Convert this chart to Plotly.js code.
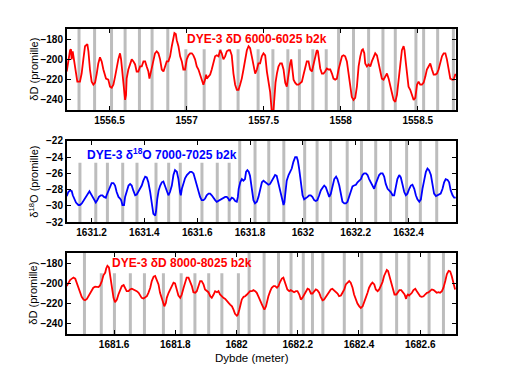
<!DOCTYPE html>
<html><head><meta charset="utf-8">
<script src="https://cdn.plot.ly/plotly-3.0.1.min.js"></script>
<style>html,body{margin:0;padding:0;background:#fff;}#chart{width:505px;height:372px;}</style>
</head><body><div id="chart"></div>
<script>
// ---------- DATA ----------
const topDepth = [1556.222,1556.244,1556.250,1556.254,1556.261,1556.269,1556.282,1556.291,1556.308,1556.319,1556.330,1556.341,1556.356,1556.363,1556.373,1556.384,1556.395,1556.406,1556.417,1556.427,1556.438,1556.449,1556.460,1556.477,1556.492,1556.503,1556.514,1556.525,1556.536,1556.547,1556.557,1556.568,1556.575,1556.586,1556.594,1556.601,1556.607,1556.611,1556.622,1556.633,1556.644,1556.655,1556.666,1556.676,1556.687,1556.698,1556.709,1556.720,1556.731,1556.741,1556.752,1556.759,1556.767,1556.780,1556.795,1556.806,1556.817,1556.828,1556.839,1556.850,1556.860,1556.871,1556.882,1556.893,1556.904,1556.914,1556.921,1556.930,1556.936,1556.947,1556.958,1556.969,1556.979,1556.990,1557.001,1557.012,1557.023,1557.034,1557.044,1557.055,1557.066,1557.077,1557.088,1557.098,1557.109,1557.120,1557.127,1557.131,1557.142,1557.153,1557.163,1557.174,1557.185,1557.196,1557.207,1557.218,1557.228,1557.239,1557.250,1557.261,1557.272,1557.282,1557.293,1557.304,1557.315,1557.326,1557.337,1557.347,1557.358,1557.369,1557.380,1557.391,1557.402,1557.412,
1557.423,1557.434,1557.445,1557.456,1557.466,1557.477,1557.488,1557.499,1557.510,1557.521,1557.531,1557.542,1557.549,1557.553,1557.564,1557.570,1557.577,1557.586,1557.596,1557.607,1557.618,1557.629,1557.640,1557.650,1557.661,1557.672,1557.679,1557.685,1557.694,1557.704,1557.715,1557.726,1557.737,1557.748,1557.759,1557.769,1557.780,1557.791,1557.802,1557.813,1557.824,1557.834,1557.845,1557.852,1557.860,1557.867,1557.878,1557.888,1557.899,1557.910,1557.921,1557.932,1557.943,1557.953,1557.964,1557.975,1557.986,1557.997,1558.008,1558.018,1558.029,1558.040,1558.051,1558.062,1558.072,1558.083,1558.094,1558.105,1558.116,1558.127,1558.137,1558.144,1558.153,1558.159,1558.170,1558.181,1558.192,1558.202,1558.213,1558.224,1558.235,1558.246,1558.256,1558.267,1558.278,1558.289,1558.300,1558.311,1558.321,1558.332,1558.343,1558.354,1558.365,1558.376,1558.386,1558.397,1558.408,1558.414,1558.423,1558.430,1558.440,1558.451,1558.462,1558.473,1558.484,1558.495,1558.505,1558.516,1558.527,1558.538,1558.549,1558.559,1558.570,1558.581,1558.592,1558.603,1558.614,1558.624,1558.635,1558.646,1558.657,1558.668,1558.679,1558.689,1558.700,1558.711,1558.722,1558.733,1558.743,1558.748];
const topDD = [-212,-191,-190,-200,-192,-201,-217,-222,-222,-214,-200,-187,-185,-192,-210,-222,-225,-223,-214,-204,-198,-202,-210,-219,-220,-227,-228,-225,-217,-207,-200,-194,-200,-217,-227,-240,-235,-219,-210,-204,-200,-202,-205,-212,-212,-207,-207,-202,-202,-207,-212,-219,-214,-204,-194,-192,-194,-200,-210,-212,-207,-202,-202,-197,-187,-177,-174,-175,-181,-187,-197,-202,-210,-210,-200,-196,-194,-194,-196,-200,-207,-210,-215,-220,-225,-220,-215,-219,-217,-215,-210,-202,-197,-196,-197,-191,-194,-200,-197,-192,-191,-191,-196,-214,-225,-230,-230,-225,-219,-210,-199,-191,-187,-189,
-197,-207,-214,-210,-204,-204,-197,-194,-196,-212,-222,-232,-245,-252,-250,-237,-223,-214,-207,-204,-204,-210,-223,-227,-214,-204,-200,-210,-220,-223,-225,-225,-223,-222,-215,-207,-202,-202,-210,-212,-204,-197,-191,-192,-200,-209,-214,-214,-212,-209,-210,-210,-214,-219,-220,-219,-210,-202,-197,-196,-197,-202,-214,-227,-237,-240,-238,-227,-207,-197,-191,-190,-194,-204,-207,-205,-207,-202,-197,-194,-196,-204,-210,-219,-220,-217,-214,-219,-227,-233,-240,-242,-235,-219,-204,-191,-187,-191,-204,-214,-227,-230,-235,-240,-238,-225,-222,-225,-225,-223,-217,-210,-207,-204,-210,-215,-215,-214,-210,-202,-197,-194,-194,-200,-210,-219,-220,-220,-215,-215];

const midDepth = [1631.106,1631.112,1631.119,1631.125,1631.129,1631.134,1631.141,1631.150,1631.156,1631.163,1631.169,1631.175,1631.182,1631.188,1631.192,1631.197,1631.203,1631.209,1631.216,1631.222,1631.228,1631.235,1631.241,1631.247,1631.254,1631.257,1631.264,1631.270,1631.276,1631.283,1631.289,1631.295,1631.302,1631.308,1631.312,1631.317,1631.323,1631.327,1631.333,1631.340,1631.346,1631.352,1631.358,1631.365,1631.371,1631.377,1631.384,1631.390,1631.396,1631.403,1631.409,1631.415,1631.422,1631.428,1631.434,1631.441,1631.444,1631.449,1631.454,1631.460,1631.466,1631.472,1631.478,1631.485,1631.491,1631.497,1631.504,1631.510,1631.516,1631.523,1631.529,1631.535,1631.538,1631.542,1631.548,1631.554,1631.561,1631.567,1631.573,1631.579,1631.586,1631.592,1631.598,1631.605,1631.611,1631.617,1631.624,1631.630,1631.636,1631.643,1631.649,1631.655,1631.662,1631.668,1631.674,1631.680,1631.687,1631.693,1631.699,1631.706,1631.712,1631.718,1631.722,1631.725,1631.731,1631.737,1631.744,1631.750,1631.754,1631.757,1631.763,1631.769,1631.775,1631.781,1631.785,1631.790,1631.795,
1631.800,1631.807,1631.813,1631.819,1631.826,1631.832,1631.838,1631.845,1631.851,1631.857,1631.864,1631.870,1631.876,1631.882,1631.889,1631.895,1631.901,1631.908,1631.914,1631.920,1631.927,1631.930,1631.934,1631.939,1631.946,1631.952,1631.958,1631.964,1631.971,1631.977,1631.981,1631.986,1631.992,1631.999,1632.005,1632.011,1632.018,1632.024,1632.030,1632.036,1632.043,1632.049,1632.055,1632.062,1632.068,1632.076,1632.081,1632.087,1632.093,1632.100,1632.106,1632.112,1632.119,1632.126,1632.131,1632.138,1632.144,1632.150,1632.157,1632.163,1632.169,1632.175,1632.182,1632.188,1632.194,1632.201,1632.207,1632.213,1632.220,1632.226,1632.232,1632.239,1632.245,1632.251,1632.257,1632.264,1632.270,1632.276,1632.283,1632.289,1632.295,1632.302,1632.308,1632.314,1632.321,1632.327,1632.333,1632.340,1632.346,1632.352,1632.358,1632.365,1632.371,1632.377,1632.384,1632.390,1632.396,1632.403,1632.409,1632.415,1632.422,1632.428,1632.434,1632.441,1632.447,1632.453,1632.459,1632.466,1632.472,1632.478,1632.485,1632.491,1632.497,1632.504,1632.510,1632.516,1632.522,1632.529,1632.535,1632.541,1632.548,1632.554,1632.560,1632.567,1632.573,1632.579];
const midD18O = [-28.8,-28.3,-28.1,-28.2,-28.7,-29.1,-29.6,-29.9,-29.9,-29.7,-29.4,-29.1,-28.7,-28.3,-28.2,-28.5,-28.9,-29.3,-29.6,-29.3,-28.9,-28.7,-28.7,-28.9,-29.0,-28.7,-28.1,-27.5,-27.2,-27.2,-27.5,-28.3,-28.9,-29.1,-29.3,-29.9,-29.9,-28.9,-28.1,-27.5,-27.3,-27.5,-28.1,-28.7,-28.6,-28.3,-27.9,-27.5,-26.9,-26.4,-26.5,-27.1,-28.3,-29.5,-31.0,-31.2,-30.7,-29.1,-28.1,-27.5,-27.1,-27.0,-27.5,-28.1,-28.7,-28.3,-27.5,-26.2,-25.6,-25.8,-26.7,-28.3,-28.7,-27.9,-27.1,-26.6,-26.2,-26.0,-25.8,-25.8,-26.0,-26.7,-27.5,-28.3,-28.9,-29.3,-29.3,-29.1,-28.7,-28.5,-28.5,-28.7,-29.1,-29.3,-29.5,-29.4,-29.3,-29.2,-29.0,-28.9,-28.9,-29.1,-29.4,-29.2,-29.0,-29.1,-29.4,-29.5,-28.9,-27.9,-27.1,-26.7,-26.9,-26.7,-25.8,-25.6,-25.8,
-26.3,-27.9,-29.3,-29.7,-29.5,-28.9,-27.9,-27.1,-26.9,-27.1,-27.3,-27.4,-27.3,-26.9,-26.4,-26.2,-26.3,-27.3,-28.3,-29.3,-29.9,-29.6,-28.3,-26.9,-26.2,-25.8,-25.4,-24.6,-24.0,-24.0,-24.4,-25.4,-27.1,-28.7,-29.2,-29.1,-28.9,-28.7,-28.7,-28.9,-29.3,-29.4,-29.3,-28.7,-28.1,-27.7,-27.5,-27.7,-28.3,-28.9,-28.5,-27.5,-26.7,-26.4,-26.7,-27.5,-28.7,-29.5,-29.7,-29.7,-29.5,-28.9,-28.3,-27.6,-27.5,-27.4,-27.1,-26.9,-26.7,-26.2,-26.0,-26.0,-26.2,-26.7,-27.1,-27.5,-27.9,-27.3,-26.7,-26.2,-26.0,-26.0,-26.4,-27.3,-27.9,-28.1,-28.3,-28.7,-28.7,-27.7,-26.7,-26.2,-26.5,-27.3,-28.3,-28.7,-28.5,-27.9,-27.5,-27.4,-27.9,-28.7,-29.2,-29.5,-29.2,-27.9,-26.7,-25.8,-25.4,-25.6,-26.2,-27.5,-28.5,-28.8,-28.7,-28.7,-28.5,-27.9,-27.1,-26.7,-26.8,-27.1,-28.1,-28.7,-29.0,-29.0];

const botDepth = [1681.445,1681.451,1681.456,1681.462,1681.467,1681.473,1681.478,1681.483,1681.489,1681.494,1681.500,1681.505,1681.511,1681.516,1681.522,1681.527,1681.532,1681.538,1681.543,1681.549,1681.554,1681.560,1681.565,1681.571,1681.574,1681.578,1681.583,1681.587,1681.592,1681.598,1681.603,1681.609,1681.614,1681.620,1681.625,1681.631,1681.636,1681.641,1681.647,1681.652,1681.658,1681.663,1681.669,1681.674,1681.680,1681.685,1681.690,1681.696,1681.701,1681.707,1681.712,1681.718,1681.723,1681.729,1681.734,1681.739,1681.745,1681.750,1681.756,1681.761,1681.764,1681.769,1681.772,1681.778,1681.783,1681.788,1681.794,1681.799,1681.805,1681.810,1681.816,1681.821,1681.827,1681.832,1681.837,1681.843,1681.848,1681.854,1681.859,1681.865,1681.870,1681.876,1681.881,1681.886,1681.892,1681.897,1681.903,1681.908,1681.914,1681.919,1681.925,1681.930,1681.936,1681.941,1681.946,1681.952,1681.957,1681.963,1681.968,1681.974,1681.979,1681.985,1681.990,1681.995,1682.001,1682.004,1682.009,1682.012,1682.017,1682.023,1682.028,1682.034,1682.039,1682.044,
1682.050,1682.055,1682.061,1682.066,1682.072,1682.077,1682.083,1682.088,1682.091,1682.096,1682.099,1682.104,1682.110,1682.115,1682.121,1682.126,1682.132,1682.137,1682.142,1682.148,1682.153,1682.157,1682.161,1682.166,1682.172,1682.177,1682.183,1682.188,1682.194,1682.199,1682.205,1682.210,1682.215,1682.221,1682.226,1682.232,1682.237,1682.243,1682.248,1682.254,1682.259,1682.264,1682.270,1682.275,1682.281,1682.286,1682.292,1682.297,1682.303,1682.308,1682.313,1682.319,1682.324,1682.330,1682.335,1682.341,1682.346,1682.352,1682.357,1682.363,1682.368,1682.373,1682.379,1682.384,1682.390,1682.395,1682.401,1682.406,1682.412,1682.417,1682.422,1682.428,1682.433,1682.439,1682.444,1682.450,1682.455,1682.461,1682.466,1682.471,1682.477,1682.482,1682.488,1682.491,1682.495,1682.500,1682.505,1682.511,1682.516,1682.522,1682.527,1682.532,1682.538,1682.543,1682.549,1682.554,1682.556,1682.560,1682.564,1682.567,1682.573,1682.578,1682.584,1682.589,1682.595,1682.600,1682.605,1682.611,1682.616,1682.622,1682.627,1682.633,1682.638,1682.644,1682.649,1682.654,1682.660,1682.665,1682.671,1682.676,1682.682,1682.687,1682.693,1682.698,1682.703,1682.709,1682.714];
const botDD = [-202.7,-199.3,-196.7,-195.3,-194.3,-195.3,-199.3,-204.3,-209.3,-213.3,-216,-216.7,-215.3,-212.7,-209.3,-206,-204.3,-203.3,-203.3,-203.7,-202,-197.7,-192,-189.3,-185.3,-182.7,-184.3,-192.7,-204.3,-214.3,-218.7,-216,-211,-206,-202.7,-201.7,-204.3,-207.7,-207.7,-206,-205.3,-206,-207,-207.7,-209.3,-212.7,-214.3,-215,-214.3,-212.7,-209.3,-204.3,-197.7,-193.3,-192.7,-196,-201,-209.3,-216,-222,-222.7,-219.3,-214.3,-209.3,-206,-202.7,-199.3,-200,-206,-212,-214.3,-211,-204.3,-197.7,-194.3,-194.3,-197.7,-202.7,-208.7,-209.3,-207.7,-202.7,-197.7,-197.7,-201,-206,-207.7,-208.7,-212.7,-214.3,-211,-207.7,-208.7,-207.7,-211,-213.3,-214.3,-215.3,-217.7,-219.3,-221,-222.7,-226,-230,-232,-231,-226,-221,-216,-213.3,-212.7,-211,-208.7,-207.7,
-207.7,-206.7,-207.7,-209.3,-213.3,-217.7,-221,-224.3,-226,-222.7,-217.7,-212.7,-207.7,-204.3,-202.7,-202.7,-204.3,-202.7,-198.7,-195.3,-194.3,-197.7,-202.7,-206,-207.7,-206.7,-207.7,-208.7,-207.7,-207.7,-211,-216,-214.3,-211,-207.7,-205.3,-206,-210,-210,-207.7,-206,-206.7,-209.3,-213.3,-216.7,-216,-213.3,-211,-207.7,-206,-205.3,-206.7,-208.7,-210,-212.7,-212,-209.3,-206,-201,-198.7,-197.7,-199.3,-204.3,-211,-216,-220,-222.7,-224.3,-222.7,-219.3,-214.3,-209.3,-204.3,-201,-199.3,-201,-206,-207.7,-206,-202.7,-198.7,-192.7,-187.7,-186.7,-187.7,-192.7,-199.3,-206,-211,-211,-209.3,-206.7,-206.7,-209.3,-211,-215.3,-212.7,-211,-212,-211,-209.3,-206.7,-205.3,-207.7,-211,-212.7,-213.3,-212.7,-211,-209.3,-209,-207.7,-206,-206.7,-207.7,-209.3,-208.7,-209.3,-207.7,-204.3,-197.7,-191,-187.7,-188.3,-192.7,-201,-206];

// annual-layer markers (depth, m)
const topLayers = [1556.302,1556.403,1556.513,1556.601,1556.694,1556.776,1556.878,1556.995,1557.114,1557.218,1557.334,1557.464,1557.560,1557.657,1557.732,1557.819,1557.906,1557.986,1558.083,1558.181,1558.274,1558.354,1558.488,1558.538,1558.629,1558.731];
const midLayers = [1631.156,1631.216,1631.260,1631.318,1631.372,1631.444,1631.492,1631.536,1631.618,1631.676,1631.721,1631.761,1631.819,1631.871,1631.928,1632.007,1632.054,1632.105,1632.168,1632.222,1632.276,1632.332,1632.393,1632.445,1632.507];
const botLayers = [1681.503,1681.558,1681.601,1681.653,1681.699,1681.761,1681.819,1681.864,1681.909,1681.952,1682.006,1682.041,1682.090,1682.137,1682.178,1682.218,1682.248,1682.282,1682.352,1682.409,1682.472,1682.523,1682.563,1682.629,1682.676];

const topTicks = [1556.5,1557,1557.5,1558,1558.5];
const topTickText = ['1556.5','1557','1557.5','1558','1558.5'];
const midTicks = [1631.2,1631.4,1631.6,1631.8,1632,1632.2,1632.4];
const midTickText = ['1631.2','1631.4','1631.6','1631.8','1632','1632.2','1632.4'];
const botTicks = [1681.6,1681.8,1682,1682.2,1682.4,1682.6];
const botTickText = ['1681.6','1681.8','1682','1682.2','1682.4','1682.6'];
const dDTicks = [-180,-200,-220,-240];
const d18OTicks = [-22,-24,-26,-28,-30,-32];

// ---------- STYLE / LAYOUT ----------
const FONT = 'Liberation Sans, Arial, sans-serif';
const tickFont = {family: FONT, size: 10, color: '#000', weight: 'bold'};
const titleFont = {family: FONT, size: 11, color: '#000'};

function xax(range, vals, txt) {
  return {range: range, domain: [0,1], tickvals: vals, ticktext: txt, ticks: 'inside', ticklen: 4,
    tickwidth: 1, tickcolor: '#000', showline: true, linecolor: '#000', linewidth: 2, mirror: 'ticks',
    showgrid: false, zeroline: false, tickfont: tickFont, fixedrange: true};
}
function yax(range, vals, dom) {
  return {range: range, domain: dom, tickvals: vals, ticks: 'inside', ticklen: 4, tickwidth: 1,
    tickcolor: '#000', showline: true, linecolor: '#000', linewidth: 2, mirror: 'ticks', showgrid: false,
    zeroline: false, tickfont: tickFont, fixedrange: true};
}

const xr1 = [1556.224, 1558.748], xr2 = [1631.107, 1632.58], xr3 = [1681.446, 1682.717];
const yr1 = [-250, -170], yr2 = [-32, -22], yr3 = [-250, -170];
const dom1 = [0.7344, 1], dom2 = [0.3672, 0.6328], dom3 = [0, 0.2656];

const shapes = [];
function addBars(list, xref, yref, yr) {
  list.forEach(d => shapes.push({type: 'line', xref: xref, yref: yref, x0: d, x1: d, y0: yr[0], y1: yr[1],
    line: {color: '#bdbdbd', width: 3}, layer: 'below'}));
}
addBars(topLayers, 'x', 'y', yr1);
addBars(midLayers, 'x2', 'y2', yr2);
addBars(botLayers, 'x3', 'y3', yr3);
// white label backgrounds
shapes.push({type: 'rect', xref: 'x', yref: 'y', x0: 1556.965, x1: 1557.952, y0: -190, y1: -170, fillcolor: '#fff', line: {width: 0}, layer: 'below'});
shapes.push({type: 'rect', xref: 'x2', yref: 'y2', x0: 1631.128, x1: 1631.742, y0: -24.7, y1: -22, fillcolor: '#fff', line: {width: 0}, layer: 'below'});
shapes.push({type: 'rect', xref: 'x3', yref: 'y3', x0: 1681.532, x1: 1682.025, y0: -190, y1: -170, fillcolor: '#fff', line: {width: 0}, layer: 'below'});

const annFont = (c) => ({family: FONT, size: 12, color: c, weight: 'bold'});
const yTitleX = -0.087;
const annotations = [
  {xref: 'x', yref: 'y', x: 1557.46, y: -180, text: 'DYE-3 δD 6000-6025 b2k', showarrow: false, font: annFont('#ff0000')},
  {xref: 'x2', yref: 'y2', x: 1631.468, y: -23.6, text: 'DYE-3 δ<sup>18</sup>O 7000-7025 b2k', showarrow: false, font: annFont('#0000ff')},
  {xref: 'x3', yref: 'y3', x: 1681.822, y: -180, text: 'DYE-3 δD 8000-8025 b2k', showarrow: false, font: annFont('#ff0000')},
  {xref: 'paper', yref: 'paper', x: 0.475, xanchor: 'center', y: -0.078, yanchor: 'middle', text: 'Dybde (meter)', showarrow: false,
   font: {family: FONT, size: 11.5, color: '#000'}},
  {xref: 'paper', yref: 'paper', x: yTitleX, xanchor: 'center', yanchor: 'middle', y: (dom1[0]+dom1[1])/2, textangle: -90, text: 'δD (promille)', showarrow: false, font: titleFont},
  {xref: 'paper', yref: 'paper', x: yTitleX, xanchor: 'center', yanchor: 'middle', y: (dom2[0]+dom2[1])/2, textangle: -90, text: 'δ<sup>18</sup>O (promille)', showarrow: false, font: titleFont},
  {xref: 'paper', yref: 'paper', x: yTitleX, xanchor: 'center', yanchor: 'middle', y: (dom3[0]+dom3[1])/2, textangle: -90, text: 'δD (promille)', showarrow: false, font: titleFont}
];

const traces = [
  {x: topDepth, y: topDD, xaxis: 'x', yaxis: 'y', type: 'scatter', mode: 'lines', line: {color: '#ff0000', width: 1.8}, hoverinfo: 'skip'},
  {x: midDepth, y: midD18O, xaxis: 'x2', yaxis: 'y2', type: 'scatter', mode: 'lines', line: {color: '#0000ff', width: 1.8}, hoverinfo: 'skip'},
  {x: botDepth, y: botDD, xaxis: 'x3', yaxis: 'y3', type: 'scatter', mode: 'lines', line: {color: '#ff0000', width: 1.8}, hoverinfo: 'skip'}
];

const layout = {
  width: 505, height: 372, paper_bgcolor: '#fff', plot_bgcolor: '#fff', showlegend: false,
  margin: {l: 67, r: 49, t: 29, b: 38},
  xaxis: Object.assign(xax(xr1, topTicks, topTickText), {anchor: 'y'}),
  yaxis: Object.assign(yax(yr1, dDTicks, dom1), {anchor: 'x'}),
  xaxis2: Object.assign(xax(xr2, midTicks, midTickText), {anchor: 'y2'}),
  yaxis2: Object.assign(yax(yr2, d18OTicks, dom2), {anchor: 'x2'}),
  xaxis3: Object.assign(xax(xr3, botTicks, botTickText), {anchor: 'y3'}),
  yaxis3: Object.assign(yax(yr3, dDTicks, dom3), {anchor: 'x3'}),
  shapes: shapes, annotations: annotations
};

Plotly.newPlot('chart', traces, layout, {displayModeBar: false, staticPlot: true});
</script>
</body></html>
